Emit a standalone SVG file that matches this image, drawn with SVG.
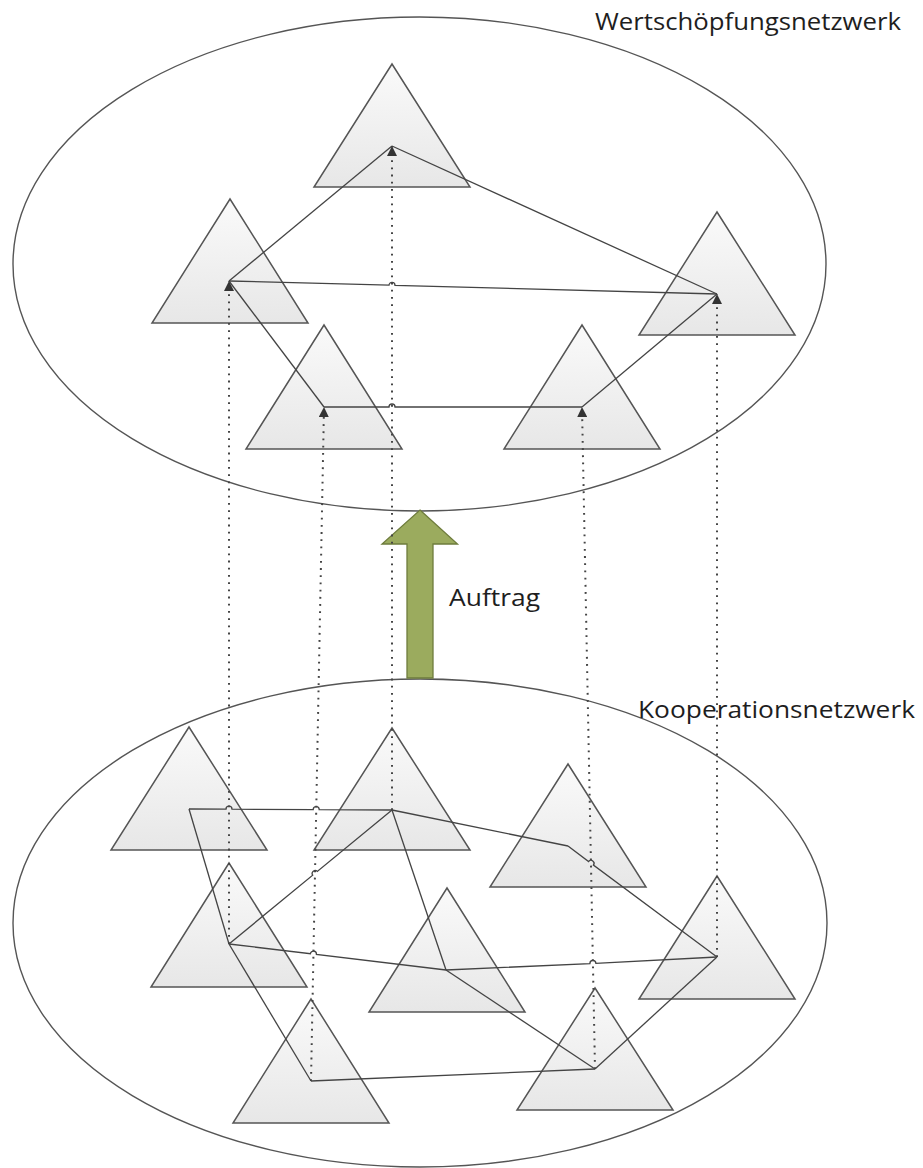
<svg xmlns="http://www.w3.org/2000/svg" width="923" height="1168" viewBox="0 0 923 1168">
  <style>
    .net { fill: none; stroke: #555; stroke-width: 1.4; }
    .node { fill: url(#nodeFill); stroke: #555; stroke-width: 1.5; stroke-linejoin: miter; }
    .link { fill: none; stroke: #444; stroke-width: 1.3; }
    .map { fill: none; stroke: #444; stroke-width: 2; stroke-dasharray: 1.8 5.4; marker-end: url(#tip); }
    .label { font-family: "Open Sans", "Noto Sans", "Liberation Sans", sans-serif; font-size: 23px; fill: #1e1e1e; }
  </style>
  <defs>
    <linearGradient id="nodeFill" x1="0" y1="0" x2="0" y2="1">
      <stop offset="0" stop-color="#fafafa"/>
      <stop offset="1" stop-color="#e7e7e7"/>
    </linearGradient>
    <marker id="tip" viewBox="0 0 10 10" refX="10" refY="5" markerWidth="10" markerHeight="10" markerUnits="userSpaceOnUse" orient="auto">
      <path d="M0,0 L10,5 L0,10 z" fill="#333"/>
    </marker>
  </defs>

  <rect width="923" height="1168" fill="#fff"/>

  <!-- the two network boundaries -->
  <g id="wertschoepfungsnetzwerk">
    <ellipse class="net" cx="419.5" cy="264" rx="406.5" ry="247"/>
    <text class="label" x="595" y="30" textLength="306" lengthAdjust="spacingAndGlyphs">Wertschöpfungsnetzwerk</text>
  </g>
  <g id="kooperationsnetzwerk">
    <ellipse class="net" cx="420" cy="923" rx="407" ry="244"/>
    <text class="label" x="638" y="718" textLength="277" lengthAdjust="spacingAndGlyphs">Kooperationsnetzwerk</text>
  </g>

  <!-- order arrow between the networks -->
  <g id="auftrag">
    <polygon points="420,510 457.5,544 433,544 433,678 407,678 407,544 382,544" fill="#9bab5e" stroke="#6e7c3c" stroke-width="1.3"/>
    <text class="label" x="449" y="606" textLength="91" lengthAdjust="spacingAndGlyphs">Auftrag</text>
  </g>

  <!-- partners of the value network -->
  <g id="t1"><polygon class="node" points="392,64 470,187 314,187"/></g>
  <g id="t2"><polygon class="node" points="230,199 308,323 152,323"/></g>
  <g id="t3"><polygon class="node" points="717,212 795,335 639,335"/></g>
  <g id="t4"><polygon class="node" points="582,325 660,449 504,449"/></g>
  <g id="t5"><polygon class="node" points="324,325 402,449 246,449"/></g>

  <!-- partners of the cooperation network -->
  <g id="b1"><polygon class="node" points="189,727 267,850 111,850"/></g>
  <g id="b2"><polygon class="node" points="392,728 470,850 314,850"/></g>
  <g id="b3"><polygon class="node" points="229,863 307,987 151,987"/></g>
  <g id="b4"><polygon class="node" points="447,888 525,1012 369,1012"/></g>
  <g id="b5"><polygon class="node" points="568,764 646,887 490,887"/></g>
  <g id="b6"><polygon class="node" points="717,876 795,999 639,999"/></g>
  <g id="b7"><polygon class="node" points="311,999 389,1123 233,1123"/></g>
  <g id="b8"><polygon class="node" points="595,988 673,1110 517,1110"/></g>

  <g id="connectors">
    <!-- links inside the value network -->
    <path class="link" d="M229,281 L392,146"/>
    <path class="link" d="M392,146 L717,294"/>
    <path class="link" d="M229,281 L389,285.2 A3,3 0 0 1 395,285.4 L717,294"/>
    <path class="link" d="M229,281 L324,407"/>
    <path class="link" d="M324,407 L389,407 A3,3 0 0 1 395,407 L582,407"/>
    <path class="link" d="M582,407 L717,294"/>

    <!-- links inside the cooperation network -->
    <path class="link" d="M189,809 L226,809.2 A3,3 0 0 1 232,809.2 L313.2,809.6 A3,3 0 0 1 319.2,809.6 L392,810"/>
    <path class="link" d="M189,809 L229,944"/>
    <path class="link" d="M229,944 L312.7,875.2 A3,3 0 0 1 317.3,871.4 L392,810"/>
    <path class="link" d="M229,944 L311,1081"/>
    <path class="link" d="M229,944 L310.4,953.7 A3,3 0 0 1 316.4,954.5 L446,970"/>
    <path class="link" d="M392,810 L446,970"/>
    <path class="link" d="M392,810 L568,846"/>
    <path class="link" d="M568,846 L588.6,861.5 A3,3 0 0 1 593.4,865.1 L717,957"/>
    <path class="link" d="M446,970 L589.9,963.6 A3,3 0 0 1 595.9,963.4 L717,957"/>
    <path class="link" d="M446,970 L595,1069"/>
    <path class="link" d="M311,1081 L595,1069"/>
    <path class="link" d="M595,1069 L717,957"/>

    <!-- partners selected into the value network -->
    <path class="map" d="M229,944 L229,281"/>
    <path class="map" d="M392,810 L392,146"/>
    <path class="map" d="M311,1081 L324,407"/>
    <path class="map" d="M595,1069 L582,407"/>
    <path class="map" d="M717,957 L717,294"/>
  </g>
</svg>
